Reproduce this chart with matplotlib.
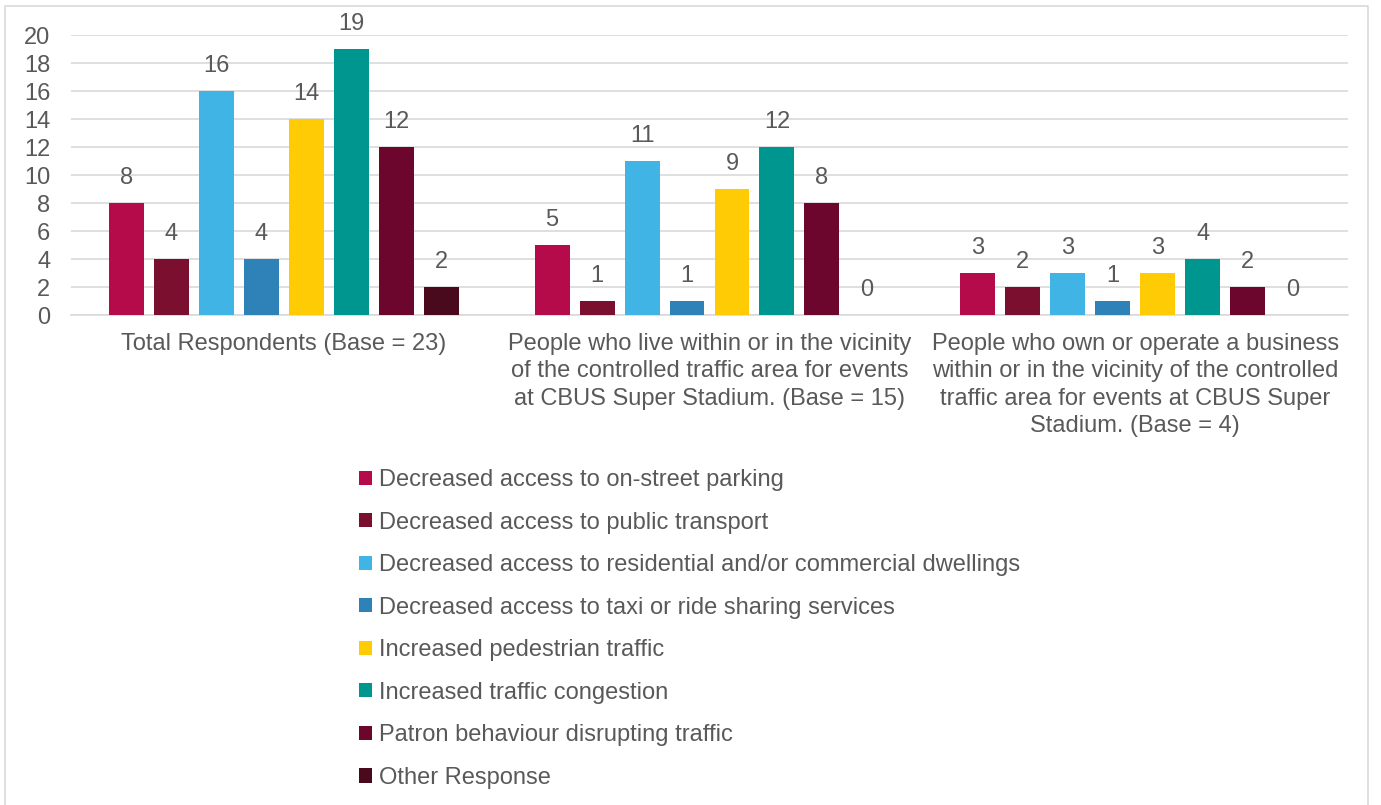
import numpy as np
import matplotlib.pyplot as plt
from matplotlib.patches import Patch
from matplotlib.lines import Line2D

plt.rcParams['font.family'] = ['Liberation Sans', 'DejaVu Sans']

# data
groups = [
    "Total Respondents (Base = 23)",
    "People who live within or in the vicinity\nof the controlled traffic area for events\nat CBUS Super Stadium. (Base = 15)",
    "People who own or operate a business\nwithin or in the vicinity of the controlled\ntraffic area for events at CBUS Super\nStadium. (Base = 4)",
]
series = [
    "Decreased access to on-street parking",
    "Decreased access to public transport",
    "Decreased access to residential and/or commercial dwellings",
    "Decreased access to taxi or ride sharing services",
    "Increased pedestrian traffic",
    "Increased traffic congestion",
    "Patron behaviour disrupting traffic",
    "Other Response",
]
values = [
    [8, 5, 3],
    [4, 1, 2],
    [16, 11, 3],
    [4, 1, 1],
    [14, 9, 3],
    [19, 12, 4],
    [12, 8, 2],
    [2, 0, 0],
]
colors = ["#B50B4B", "#7A0F30", "#3FB4E5", "#2E82B8",
          "#FFCB05", "#009690", "#6D062C", "#4A0A1E"]

text_col = "#595959"
fs = 17

fig = plt.figure(figsize=(13.81, 8.05), dpi=100)
ax = fig.add_axes([71 / 1381, 1 - 315 / 805, (1348 - 71) / 1381, 280 / 805])

x = np.arange(len(groups))
pitch = 0.1057
width = 0.0822
for i, (name, vals) in enumerate(zip(series, values)):
    pos = x + (i - 3.5) * pitch
    bars = ax.bar(pos, vals, width, color=colors[i], label=name, zorder=3)
    ax.bar_label(bars, padding=10, fontsize=fs, color=text_col, clip_on=False)

ax.set_xlim(-0.5, len(groups) - 0.5)
ax.set_ylim(0, 20)
ax.set_yticks(range(0, 21, 2))
ax.set_xticks(x)
ax.set_xticklabels(groups, fontsize=fs, color=text_col, linespacing=1.31, va='top')
ax.tick_params(axis='both', length=0, labelsize=fs, colors=text_col)
ax.tick_params(axis='x', pad=13)
ax.tick_params(axis='y', pad=15)
ax.grid(axis='y', color='#D9D9D9', linewidth=1.2, zorder=0)
for s in ['left', 'right', 'top']:
    ax.spines[s].set_visible(False)
ax.spines['bottom'].set_color('#D9D9D9')
ax.spines['bottom'].set_linewidth(1.2)

handles = [Patch(facecolor=c, label=s) for c, s in zip(colors, series)]
fig.legend(handles=handles, loc='upper left', bbox_to_anchor=(359 / 1381, 1 - 469 / 805),
           frameon=False, fontsize=fs, labelcolor=text_col, handlelength=0.55,
           handleheight=0.55, handletextpad=0.3, labelspacing=0.87, borderpad=0,
           borderaxespad=0)

# outer border
bx0, bx1, by0 = 5 / 1381, 1368 / 1381, 1 - 6 / 805
fig.add_artist(Line2D([bx0, bx0, bx1, bx1], [0, by0, by0, 0], color='#D9D9D9',
                      linewidth=1.2, transform=fig.transFigure))

fig.savefig('out.png', dpi=100)
